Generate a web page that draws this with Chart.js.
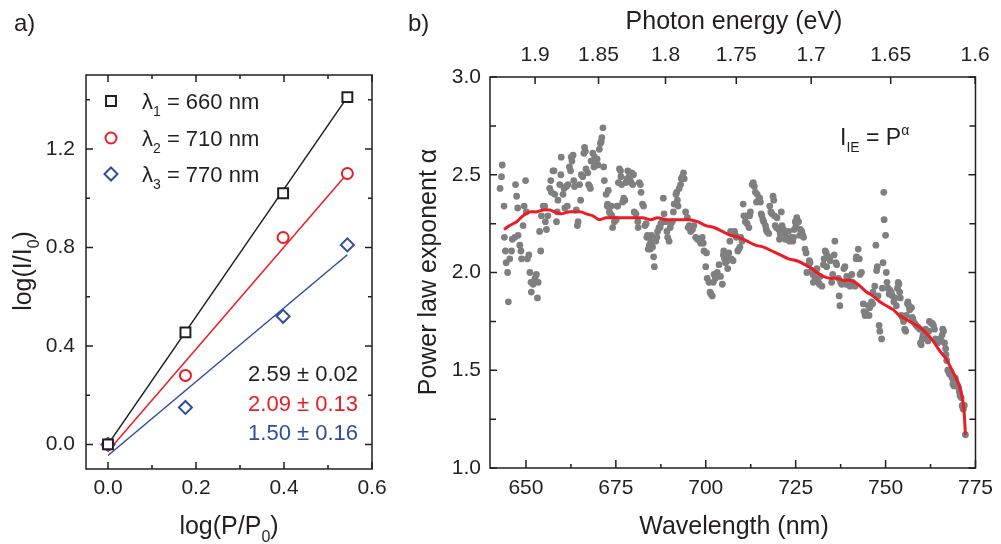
<!DOCTYPE html>
<html>
<head>
<meta charset="utf-8">
<title>Power law exponent</title>
<script src="https://cdn.jsdelivr.net/npm/chart.js@4.4.1/dist/chart.umd.min.js"></script>
<style>
  body { margin: 0; background: #fff; width: 1001px; height: 544px; overflow: hidden; position: relative; }
  canvas { position: absolute; top: 0; }
  #chartA { left: 0; }
  #chartB { left: 400px; }
</style>
</head>
<body>
<canvas id="chartA" width="400" height="544"></canvas>
<canvas id="chartB" width="601" height="544"></canvas>
<script>
// ---- panel a: log intensity vs log power ----
const powerLog = [0, 0.176, 0.398, 0.544];
const int660 = [0, 0.455, 1.02, 1.41];
const int710 = [0, 0.28, 0.84, 1.10];
const int770 = [0, 0.15, 0.52, 0.81];
// linear fits (end points)
const fitX = [0, 0.544];
const fit660 = [0.0, 1.41];
const fit710 = [-0.028, 1.10];
const fit770 = [-0.045, 0.77];
const legendWl = ['660', '710', '770'];
const slopeText = ['2.59 \u00b1 0.02', '2.09 \u00b1 0.13', '1.50 \u00b1 0.16'];

const aXTicks = [0, 0.2, 0.4, 0.6];
const aXLabels = ['0.0', '0.2', '0.4', '0.6'];
const aXMinor = [0.1, 0.3, 0.5];
const aYTicks = [0, 0.4, 0.8, 1.2];
const aYLabels = ['0.0', '0.4', '0.8', '1.2'];
const aYMinor = [0.2, 0.6, 1.0, 1.4];

// ---- panel b: exponent vs wavelength ----
const scanWl = [
  643.4,643.2,642.8,643.9,644.0,644.3,644.5,644.9,645.1,645.5,646.0,646.2,646.9,647.1,647.4,647.7,647.8,648.3,648.6,648.8,
  649.2,649.5,649.9,650.1,650.4,650.8,651.1,651.4,651.5,652.0,652.5,652.9,653.2,653.4,653.8,654.1,654.3,
  654.8,655.2,655.4,655.7,656.1,656.6,656.9,657.1,657.5,657.8,658.0,658.5,658.7,658.9,659.4,659.7,659.8,660.3,660.6,660.8,
  661.2,661.5,661.7,662.1,662.4,662.6,662.8,663.1,663.3,663.5,664.0,664.3,664.5,664.9,665.2,665.4,665.8,666.1,666.3,666.5,
  666.7,667.2,667.4,667.7,667.9,668.1,668.6,668.9,669.1,669.5,669.8,670.0,670.4,670.7,670.9,671.1,671.4,671.6,671.8,672.3,
  672.6,672.7,672.9,673.2,673.5,673.7,673.9,674.1,674.6,675.1,675.3,675.5,675.7,676.0,676.3,676.4,676.6,
  676.9,677.2,677.5,677.8,678.1,678.3,678.7,679.0,679.2,679.4,679.7,679.9,680.1,680.6,681.1,681.2,681.5,681.8,682.0,682.4,
  682.7,683.1,683.4,683.6,683.8,684.0,684.3,684.6,684.7,
  684.9,685.2,685.5,685.7,686.1,686.4,686.6,687.0,687.3,687.5,688.0,688.2,688.4,688.9,689.2,689.4,689.8,690.1,690.3,690.7,
  691.0,691.2,691.7,691.9,692.1,692.3,692.6,693.0,693.2,693.5,693.8,694.0,
  694.4,694.9,695.1,695.4,695.8,696.3,696.7,697.2,697.7,698.1,698.4,698.6,699.0,699.3,699.5,700.0,700.2,700.4,700.9,701.2,
  701.4,701.8,702.1,702.3,702.7,703.0,703.2,703.7,704.1,704.6,704.9,705.0,705.2,705.5,705.8,706.0,706.1,
  706.4,706.7,706.9,707.1,707.6,708.0,708.3,708.5,708.9,709.2,709.5,709.7,710.1,710.4,710.6,711.0,711.3,711.5,712.0,712.2,
  712.4,712.9,713.2,713.5,713.8,714.1,714.3,714.7,715.0,715.2,
  715.4,715.6,715.9,716.1,716.6,716.8,717.0,717.5,717.8,718.1,718.4,718.7,718.9,719.1,719.3,719.6,719.8,720.3,720.5,720.7,
  721.0,721.2,721.6,721.8,722.1,722.4,722.6,723.0,723.3,723.5,723.9,724.2,724.4,724.6,724.9,725.1,725.3,725.8,726.1,726.3,
  726.7,727.0,727.2,
  727.6,727.9,728.1,728.6,728.8,729.0,729.5,729.8,729.9,730.4,730.7,730.9,731.3,731.6,731.8,732.3,732.7,732.9,733.2,733.5,
  733.6,734.1,734.6,735.0,735.3,735.7,735.9,736.2,736.4,736.9,737.1,737.3,737.5,737.8,738.3,738.4,738.7,739.0,
  739.2,739.6,740.1,740.6,740.8,741.0,741.5,741.8,741.9,742.4,742.7,742.9,743.3,743.8,744.0,744.3,744.7,745.2,745.4,745.6,
  746.1,746.4,746.5,747.0,747.3,747.5,747.7,747.9,748.2,748.4,748.9,749.1,749.3,749.5,749.6,750.0,750.2,750.4,
  750.7,751.0,751.2,751.6,751.9,752.3,752.6,753.0,753.3,753.5,753.7,753.9,754.1,754.4,754.7,755.0,755.3,755.6,755.8,756.1,
  756.2,756.5,756.7,757.2,757.4,757.6,758.1,758.5,759.0,759.5,759.7,759.9,760.2,760.4,760.9,761.1,761.5,761.8,762.0,
  762.2,762.7,763.0,763.3,763.6,763.9,764.3,764.5,764.8,765.2,765.5,765.7,765.9,766.1,766.4,766.7,766.8,767.0,767.3,767.6,
  767.8,768.2,768.5,768.7,769.0,769.2,769.4,769.6,770.1,770.3,770.5,770.7,771.0,771.3,771.5,771.6,771.9,772.2
];
const scanAlpha = [
  2.55,2.49,2.43,2.34,2.18,2.11,2.05,2.00,1.85,2.07,2.11,2.17,2.18,2.45,2.39,2.33,2.19,2.14,2.11,2.07,
  2.24,2.34,2.47,2.31,2.07,2.09,2.00,1.95,1.90,1.94,1.97,1.99,1.87,1.95,2.21,2.11,2.29,
  2.34,2.34,2.26,2.22,2.29,2.43,2.47,2.41,2.52,2.52,2.40,2.26,2.31,2.37,2.45,2.50,2.59,2.40,2.43,2.33,
  2.44,2.34,2.45,2.54,2.52,2.59,2.57,2.60,2.47,2.44,2.32,2.24,2.26,2.45,2.37,2.50,2.49,2.61,2.64,2.62,
  2.53,2.51,2.45,2.44,2.43,2.57,2.61,2.54,2.59,2.56,2.58,2.55,2.63,2.66,2.67,2.69,2.74,2.54,2.47,2.40,
  2.34,2.35,2.42,2.31,2.30,2.34,2.29,2.23,2.26,2.27,2.34,2.34,2.46,2.53,2.52,2.49,2.45,
  2.36,2.38,2.37,2.46,2.48,2.52,2.49,2.47,2.46,2.51,2.45,2.50,2.31,2.30,2.26,2.23,2.46,2.45,2.41,2.35,
  2.34,2.24,2.25,2.18,2.19,2.12,2.14,2.12,2.16,
  2.19,2.13,2.08,2.03,2.16,2.18,2.21,2.23,2.23,2.25,2.26,2.38,2.30,2.26,2.21,2.18,2.16,2.23,2.25,2.26,
  2.31,2.35,2.40,2.41,2.37,2.34,2.43,2.45,2.48,2.49,2.51,2.48,
  2.31,2.28,2.23,2.24,2.21,2.22,2.24,2.18,2.17,2.17,2.16,2.15,2.18,2.15,2.11,2.03,2.10,1.97,1.95,1.90,
  1.89,1.88,1.95,1.99,1.97,1.98,2.00,2.04,1.98,1.94,2.09,2.11,2.07,2.05,2.09,2.06,2.02,
  2.10,2.16,2.21,2.07,2.06,2.21,2.19,2.18,2.11,2.12,2.13,2.18,2.16,2.35,2.29,2.26,2.29,2.25,2.23,2.29,
  2.31,2.45,2.46,2.44,2.41,2.36,2.40,2.37,2.38,2.36,
  2.30,2.29,2.27,2.26,2.24,2.22,2.21,2.20,2.34,2.31,2.30,2.39,2.37,2.29,2.24,2.23,2.28,2.22,2.17,2.20,
  2.31,2.24,2.22,2.20,2.17,2.18,2.17,2.21,2.16,2.17,2.18,2.16,2.18,2.22,2.26,2.24,2.28,2.26,2.19,2.22,
  2.21,2.19,2.18,
  2.12,2.10,2.00,2.04,2.06,2.05,2.01,1.99,1.95,1.97,2.00,2.02,1.95,1.94,1.98,1.93,2.04,2.07,2.11,2.10,
  2.03,2.08,2.06,1.95,1.99,2.09,2.16,2.05,2.04,1.97,1.88,1.83,1.95,1.94,1.95,2.02,2.03,1.94,
  1.98,1.97,1.93,1.99,1.95,1.94,1.93,2.07,2.08,2.12,2.07,1.99,2.00,1.84,1.80,1.78,1.79,1.83,1.78,1.82,
  1.85,1.84,1.90,1.93,2.14,2.01,2.03,1.88,1.73,1.70,1.66,1.92,2.05,2.41,2.27,2.19,2.00,1.95,
  1.92,1.89,1.91,1.90,1.88,1.85,1.87,1.83,1.92,1.95,1.94,1.90,1.87,1.78,1.77,1.75,1.71,1.70,1.78,1.84,
  1.85,1.83,1.81,1.82,1.77,1.76,1.74,1.73,1.72,1.71,1.64,1.63,1.66,1.68,1.69,1.71,1.67,1.65,1.70,
  1.75,1.74,1.74,1.73,1.71,1.66,1.65,1.64,1.65,1.66,1.65,1.68,1.71,1.70,1.64,1.61,1.58,1.55,1.50,1.49,
  1.48,1.49,1.46,1.43,1.42,1.45,1.46,1.44,1.42,1.41,1.39,1.37,1.36,1.32,1.31,1.30,1.32,1.17
];
// smoothed curve (red)
const smoothWl = [
  643.9,645.5,647.4,649.2,651.1,652.9,654.8,656.6,658.0,659.8,661.7,663.5,665.4,666.7,668.6,670.4,672.3,674.1,676.0,678.3,
  680.6,682.4,684.7,686.6,688.9,690.7,693.0,695.4,697.7,700.0,702.3,704.6,706.9,709.2,711.5,713.8,716.1,718.4,720.7,723.0,
  725.3,727.6,729.5,730.9,732.7,734.6,736.4,738.3,740.1,741.5,742.9,744.7,746.5,748.4,750.2,752.1,753.9,755.8,757.6,759.5,
  761.3,763.2,765.0,766.8,768.2,769.6,770.7,771.5,771.9,772.2
];
const smoothAlpha = [
  2.22,2.24,2.26,2.29,2.31,2.31,2.32,2.32,2.31,2.30,2.31,2.31,2.31,2.30,2.29,2.27,2.28,2.28,2.28,2.28,
  2.28,2.28,2.27,2.28,2.27,2.27,2.27,2.27,2.26,2.24,2.23,2.21,2.19,2.18,2.16,2.14,2.13,2.11,2.09,2.07,
  2.06,2.04,2.02,2.00,1.98,1.97,1.97,1.96,1.96,1.95,1.93,1.90,1.88,1.85,1.83,1.81,1.78,1.76,1.74,1.72,
  1.69,1.65,1.60,1.56,1.51,1.46,1.41,1.34,1.27,1.17
];

const bXTicks = [650, 675, 700, 725, 750, 775];
const bXLabels = ['650', '675', '700', '725', '750', '775'];
const bXMinor = [662.5, 687.5, 712.5, 737.5, 762.5];
const bYTicks = [1.0, 1.5, 2.0, 2.5, 3.0];
const bYLabels = ['1.0', '1.5', '2.0', '2.5', '3.0'];
const bYMinor = [1.25, 1.75, 2.25, 2.75];
const energyTicks = [1.9, 1.85, 1.8, 1.75, 1.7, 1.65, 1.6];
const energyLabels = ['1.9', '1.85', '1.8', '1.75', '1.7', '1.65', '1.6'];
const HC = 1239.84; // eV nm

const FONT = "'Liberation Sans', Arial, Helvetica, sans-serif";
const INK = '#231f20';
const RED = '#ec1c24';
const BLUE = '#2f4e9e';
const GREY = '#7f7f7f';

const pts = (xs, ys) => xs.map((x, i) => ({ x: x, y: ys[i] }));

// text with sub (1) and superscript (2) parts, y is the baseline
function drawRich(ctx, parts, x, y, size, align, color) {
  const fontFor = k => (k ? Math.round(size * 0.62) : size) + 'px ' + FONT;
  let w = 0;
  parts.forEach(p => { ctx.font = fontFor(p[1]); w += ctx.measureText(p[0]).width; });
  let cx = align === 'center' ? x - w / 2 : (align === 'right' ? x - w : x);
  ctx.fillStyle = color;
  ctx.textAlign = 'left';
  ctx.textBaseline = 'alphabetic';
  parts.forEach(p => {
    ctx.font = fontFor(p[1]);
    const dy = p[1] === 1 ? size * 0.3 : (p[1] === 2 ? -size * 0.42 : 0);
    ctx.fillText(p[0], cx, y + dy);
    cx += ctx.measureText(p[0]).width;
  });
}

// box, inward ticks on every side, plus the text layer
function makeFrame(marks, drawText) {
  return {
    id: 'frame',
    afterDraw(chart) {
      const ctx = chart.ctx;
      const a = chart.chartArea;
      ctx.save();
      ctx.strokeStyle = INK;
      ctx.lineWidth = 1.5;
      ctx.strokeRect(a.left, a.top, a.right - a.left, a.bottom - a.top);
      ctx.beginPath();
      marks.forEach(m => {
        const s = chart.scales[m.scale];
        m.values.forEach(v => {
          const p = s.getPixelForValue(v);
          m.sides.forEach(side => {
            if (side === 'bottom') { ctx.moveTo(p, a.bottom); ctx.lineTo(p, a.bottom - m.len); }
            if (side === 'top') { ctx.moveTo(p, a.top); ctx.lineTo(p, a.top + m.len); }
            if (side === 'left') { ctx.moveTo(a.left, p); ctx.lineTo(a.left + m.len, p); }
            if (side === 'right') { ctx.moveTo(a.right, p); ctx.lineTo(a.right - m.len, p); }
          });
        });
      });
      ctx.stroke();
      drawText(ctx, chart);
      ctx.restore();
    }
  };
}

const tickFont = { family: FONT, size: 21 };
const noGrid = { display: false, drawTicks: false };

function fixedTicks(values) {
  return s => { s.ticks = values.map(v => ({ value: v })); };
}

// ---------- chart a ----------
const markerStyles = [
  { pointStyle: 'rect', radius: 7, color: INK },
  { pointStyle: 'circle', radius: 5.5, color: RED },
  { pointStyle: 'rectRot', radius: 6.5, color: BLUE }
];
const fitColors = [INK, RED, BLUE];
const intensities = [int660, int710, int770];
const fits = [fit660, fit710, fit770];

const aDatasets = [];
intensities.forEach((vals, i) => {
  aDatasets.push({
    data: pts(powerLog, vals),
    pointStyle: markerStyles[i].pointStyle,
    pointRadius: markerStyles[i].radius,
    borderColor: markerStyles[i].color,
    backgroundColor: '#fff',
    borderWidth: 2,
    showLine: false,
    order: 0
  });
});
fits.forEach((vals, i) => {
  aDatasets.push({
    type: 'line',
    data: pts(fitX, vals),
    borderColor: fitColors[i],
    borderWidth: 1.5,
    pointRadius: 0,
    fill: false,
    order: 1
  });
});

const aMarks = [
  { scale: 'x', values: aXTicks, len: 7, sides: ['bottom', 'top'] },
  { scale: 'x', values: aXMinor, len: 4, sides: ['bottom', 'top'] },
  { scale: 'y', values: aYTicks, len: 7, sides: ['left', 'right'] },
  { scale: 'y', values: aYMinor, len: 4, sides: ['left', 'right'] }
];

function textA(ctx, chart) {
  drawRich(ctx, [['a)', 0]], 14, 31, 24, 'left', INK);
  drawRich(ctx, [['log(P/P', 0], ['0', 1], [')', 0]], 229, 534, 25, 'center', INK);
  ctx.save();
  ctx.translate(31, 271);
  ctx.rotate(-Math.PI / 2);
  drawRich(ctx, [['log(I/I', 0], ['0', 1], [')', 0]], 0, 0, 25, 'center', INK);
  ctx.restore();
  // legend
  const rowY = [101, 138, 174];
  markerStyles.forEach((m, i) => {
    ctx.strokeStyle = m.color;
    ctx.fillStyle = '#fff';
    ctx.lineWidth = 2;
    Chart.helpers.drawPoint(ctx, { pointStyle: m.pointStyle, radius: m.radius, borderWidth: 2, rotation: 0 }, 111, rowY[i]);
    drawRich(ctx, [['\u03bb', 0], [String(i + 1), 1], [' = ' + legendWl[i] + ' nm', 0]], 142, rowY[i] + 8, 22, 'left', INK);
  });
  // slopes
  const slopeY = [381, 411, 440];
  slopeText.forEach((t, i) => drawRich(ctx, [[t, 0]], 358, slopeY[i], 22, 'right', fitColors[i]));
}

new Chart(document.getElementById('chartA'), {
  type: 'scatter',
  data: { datasets: aDatasets },
  options: {
    responsive: false,
    animation: false,
    layout: { padding: { top: 75, right: 28, left: 0, bottom: 0 } },
    plugins: { legend: { display: false }, tooltip: { enabled: false } },
    scales: {
      x: {
        type: 'linear', min: -0.05, max: 0.6,
        afterBuildTicks: fixedTicks(aXTicks),
        afterFit: s => { s.height = 75; },
        ticks: { callback: (v, i) => aXLabels[i], font: tickFont, color: INK, padding: 7, autoSkip: false, maxRotation: 0 },
        grid: noGrid, border: { display: false }
      },
      y: {
        type: 'linear', min: -0.1, max: 1.5,
        afterBuildTicks: fixedTicks(aYTicks),
        afterFit: s => { s.width = 86; },
        ticks: { callback: (v, i) => aYLabels[i], font: tickFont, color: INK, padding: 11, autoSkip: false },
        grid: noGrid, border: { display: false }
      }
    }
  },
  plugins: [makeFrame(aMarks, textA)]
});

// ---------- chart b ----------
const bMarks = [
  { scale: 'x', values: bXTicks, len: 8, sides: ['bottom'] },
  { scale: 'x', values: bXMinor, len: 4, sides: ['bottom'] },
  { scale: 'x2', values: energyTicks.map(e => HC / e), len: 7, sides: ['top'] },
  { scale: 'y', values: bYTicks, len: 7, sides: ['left', 'right'] },
  { scale: 'y', values: bYMinor, len: 6, sides: ['left', 'right'] }
];

function textB(ctx, chart) {
  drawRich(ctx, [['b)', 0]], 8, 31, 24, 'left', INK);
  drawRich(ctx, [['Photon energy (eV)', 0]], 334, 29, 25, 'center', INK);
  drawRich(ctx, [['Wavelength (nm)', 0]], 334, 534, 25, 'center', INK);
  ctx.save();
  ctx.translate(36, 272);
  ctx.rotate(-Math.PI / 2);
  drawRich(ctx, [['Power law exponent \u03b1', 0]], 0, 0, 25, 'center', INK);
  ctx.restore();
  drawRich(ctx, [['I', 0], ['IE', 1], [' = P', 0], ['\u03b1', 2]], 440, 145, 23, 'left', INK);
}

new Chart(document.getElementById('chartB'), {
  type: 'scatter',
  data: {
    datasets: [
      {
        type: 'line',
        data: pts(smoothWl, smoothAlpha),
        borderColor: RED,
        borderWidth: 3,
        pointRadius: 0,
        tension: 0.3,
        fill: false,
        order: 0
      },
      {
        data: pts(scanWl, scanAlpha),
        pointRadius: 3.4,
        backgroundColor: GREY,
        borderWidth: 0,
        order: 1
      }
    ]
  },
  options: {
    responsive: false,
    animation: false,
    layout: { padding: { top: 0, right: 23, left: 0, bottom: 0 } },
    plugins: { legend: { display: false }, tooltip: { enabled: false } },
    scales: {
      x: {
        type: 'linear', position: 'bottom', min: 640, max: 775,
        afterBuildTicks: fixedTicks(bXTicks),
        afterFit: s => { s.height = 76; },
        ticks: { callback: (v, i) => bXLabels[i], font: tickFont, color: INK, padding: 8, autoSkip: false, maxRotation: 0 },
        grid: noGrid, border: { display: false }
      },
      x2: {
        type: 'linear', position: 'top', min: 640, max: 775,
        afterBuildTicks: s => { s.ticks = energyTicks.map(e => ({ value: HC / e })); },
        afterFit: s => { s.height = 77; },
        ticks: { callback: (v, i) => energyLabels[i], font: tickFont, color: INK, padding: 9, autoSkip: false, maxRotation: 0 },
        grid: noGrid, border: { display: false }
      },
      y: {
        type: 'linear', min: 1.0, max: 3.0,
        afterBuildTicks: fixedTicks(bYTicks),
        afterFit: s => { s.width = 90; },
        ticks: { callback: (v, i) => bYLabels[i], font: tickFont, color: INK, padding: 9, autoSkip: false },
        grid: noGrid, border: { display: false }
      }
    }
  },
  plugins: [makeFrame(bMarks, textB)]
});
</script>
</body>
</html>
